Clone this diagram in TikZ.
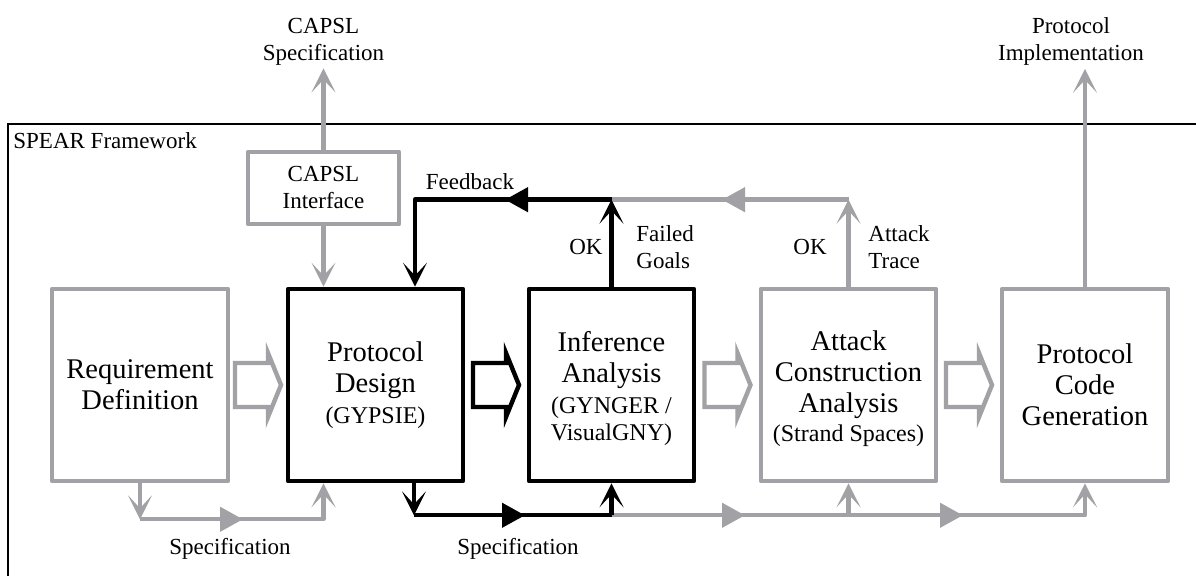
\documentclass[tikz,border=0pt]{standalone}
\usepackage{fontspec}
\setmainfont{Liberation Serif}
\usetikzlibrary{arrows.meta,decorations.markings,calc}
\definecolor{spgray}{RGB}{161,161,166}

\newcommand\subf{\fontsize{12}{15}\selectfont}

\tikzset{
  box/.style={draw, line width=2.3pt, line join=round, align=center,
    font=\fontsize{14.25}{15.5}\selectfont, inner sep=0pt, minimum height=96pt},
  graybox/.style={box, draw=spgray},
  blackbox/.style={box, draw=black},
  lbl/.style={font=\fontsize{11.5}{13.5}\selectfont, inner sep=0pt, align=center},
  barbtip/.tip={Stealth[length=12pt, width=12pt, inset=6.5pt]},
  tritip/.tip={Triangle[length=11.5pt, width=12pt]},
  conn/.style={line width=2.2pt, line join=round},
  gconn/.style={conn, color=spgray},
  kconn/.style={conn, color=black},
  midtri/.style={postaction={decorate},
    decoration={markings, mark=at position #1 with {\arrow{tritip}}}},
  barrow/.pic={\draw[line width=2.2pt, line join=miter]
    (-23,-22) -- (10,-22) -- (10,-32) -- (23,0) -- (10,32) -- (10,22) -- (-23,22) -- cycle;}
}

\begin{document}
\begin{tikzpicture}[x=0.5pt, y=-0.5pt]
\useasboundingbox (0,0) rectangle (1196,576);

% framework border, open to the right and bottom
\draw[line width=0.6pt] (1200,124) -- (8,124) -- (8,580);
\node[lbl, anchor=base west] (spear) at (13,149) {SPEAR Framework};

% process stages
\node[graybox, minimum width=88pt] (req) at (140,385) {Requirement\\Definition};
\node[blackbox, minimum width=87.5pt] (pd) at (375.5,385) {Protocol\\Design\\{\subf (GYPSIE)}};
\node[blackbox, minimum width=82.5pt] (inf) at (611.5,385)
  {\\[-2pt]Inference\\Analysis\\{\subf (GYNGER /}\\[-2pt]{\subf VisualGNY)}};
\node[graybox, minimum width=87.5pt] (att) at (848.5,385)
  {\\[-2pt]Attack\\Construction\\Analysis\\[-1pt]{\subf (Strand Spaces)}};
\node[graybox, minimum width=83pt] (code) at (1085,385) {Protocol\\Code\\Generation};
\node[graybox, font=\fontsize{11.5}{13.5}\selectfont, minimum width=75.5pt,
  minimum height=36pt] (capsl) at (323.5,188) {CAPSL\\Interface};

% external artefacts
\node[lbl] (capspec) at (323.5,41.5) {CAPSL\\Specification};
\node[lbl] (impl) at (1071,41.5) {Protocol\\Implementation};
\draw[gconn, -{barbtip}] (capsl.north) -- ($(capsl.north |- capspec.south)+(0,3)$);
\draw[gconn, -{barbtip}] (code.north) -- ($(code.north |- impl.south)+(0,3)$);
\draw[gconn, -{barbtip}] (capsl.south) -- (pd.north -| capsl.south);

% block arrows between stages
\path ($(req.east)!0.5!(pd.west)$) pic[color=spgray] {barrow};
\path ($(pd.east)!0.5!(inf.west)$) pic[color=black] {barrow};
\path ($(inf.east)!0.5!(att.west)$) pic[color=spgray] {barrow};
\path ($(att.east)!0.5!(code.west)$) pic[color=spgray] {barrow};

% feedback loop
\coordinate (loopK) at ($(inf.north)+(0,-87)$);
\coordinate (loopG) at ($(att.north)+(0,-87)$);
\coordinate (pdtopin) at ($(pd.north)+(39.5,0)$);
\draw[gconn, -{barbtip}] (att.north) -- (loopG);
\draw[gconn, midtri=63.25pt] (loopG) -- (loopK);
\draw[kconn, -{barbtip}] (inf.north) -- (loopK);
\draw[kconn, midtri=53.25pt, -{barbtip}] (loopK) -| (pdtopin);

\node[lbl] (fbk) at (470,182) {Feedback};
\node[lbl] (okA) at (586,247) {OK};
\node[lbl, anchor=west, align=left] (failed) at (636,247.5) {Failed\\Goals};
\node[lbl] (okB) at (810,247) {OK};
\node[lbl, anchor=west, align=left] (trace) at (868,247.5) {Attack\\Trace};

% specification flow along the bottom
\coordinate (reqdown) at ($(req.south)+(0,36)$);
\coordinate (reqcorner) at (reqdown -| capsl.south);
\draw[gconn, -{barbtip}] (req.south) -- (reqdown);
\draw[gconn, midtri=51.5pt, -{barbtip}] (reqdown) -- (reqcorner) -- (pd.south -| capsl.south);

\coordinate (pdout) at ($(pd.south)+(38.5,0)$);
\coordinate (pdoutB) at ($(pdout)+(0,32)$);
\coordinate (infB) at (pdoutB -| inf.south);
\coordinate (attB) at (pdoutB -| att.south);
\coordinate (codeB) at (pdoutB -| code.south);
\draw[gconn, midtri=66.75pt] (infB) -- (attB);
\draw[gconn, midtri=57.25pt, -{barbtip}] (attB) -- (codeB) -- (code.south);
\draw[gconn, -{barbtip}] (attB) -- (att.south);
\draw[kconn, -{barbtip}] (pdout) -- (pdoutB);
\draw[kconn, midtri=55.5pt] (pdoutB) -- (infB);
\draw[kconn, -{barbtip}] (infB) -- (inf.south);

\node[lbl] (specA) at (230,549) {Specification};
\node[lbl] (specB) at (518,549) {Specification};
\end{tikzpicture}
\end{document}
